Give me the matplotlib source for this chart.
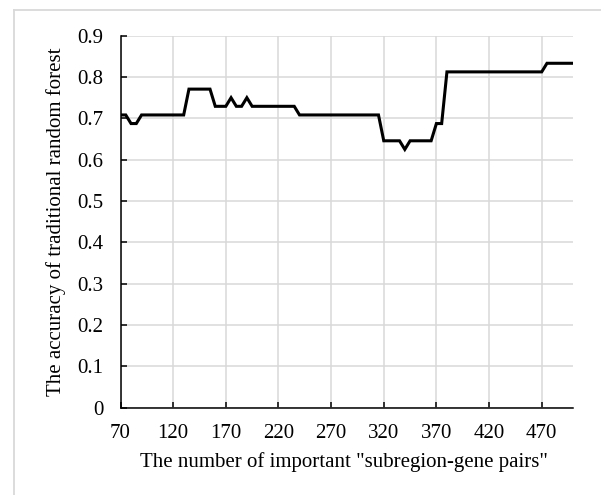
import numpy as np
from matplotlib import pyplot as plt
from matplotlib.lines import Line2D

# DATA
pair_counts = list(range(70, 505, 5))

accuracy = [
    0.7083, 0.7083, 0.6875, 0.6875, 0.7083, 0.7083, 0.7083, 0.7083, 0.7083, 0.7083,  # 70-115
    0.7083, 0.7083, 0.7083, 0.7708, 0.7708, 0.7708, 0.7708, 0.7708, 0.7292, 0.7292,  # 120-165
    0.7292, 0.7500, 0.7292, 0.7292, 0.7500, 0.7292, 0.7292, 0.7292, 0.7292, 0.7292,  # 170-215
    0.7292, 0.7292, 0.7292, 0.7292, 0.7083, 0.7083, 0.7083, 0.7083, 0.7083, 0.7083,  # 220-265
    0.7083, 0.7083, 0.7083, 0.7083, 0.7083, 0.7083, 0.7083, 0.7083, 0.7083, 0.7083,  # 270-315
    0.6458, 0.6458, 0.6458, 0.6458, 0.6250, 0.6458, 0.6458, 0.6458, 0.6458, 0.6458,  # 320-365
    0.6875, 0.6875, 0.8125, 0.8125, 0.8125, 0.8125, 0.8125, 0.8125, 0.8125, 0.8125,  # 370-415
    0.8125, 0.8125, 0.8125, 0.8125, 0.8125, 0.8125, 0.8125, 0.8125, 0.8125, 0.8125,  # 420-465
    0.8125, 0.8333, 0.8333, 0.8333, 0.8333, 0.8333,                                  # 470-495
    0.8333,                                                                          # 500
]

x_ticks = [70, 120, 170, 220, 270, 320, 370, 420, 470]
y_ticks = [0, 0.1, 0.2, 0.3, 0.4, 0.5, 0.6, 0.7, 0.8, 0.9]
y_tick_labels = ["0", "0.1", "0.2", "0.3", "0.4", "0.5", "0.6", "0.7", "0.8", "0.9"]

# PLOT
plt.rcParams['font.family'] = ['Liberation Serif', 'DejaVu Serif']
W, H = 601, 495
fig = plt.figure(figsize=(W / 100, H / 100), dpi=100)

left, right, top, bottom = 120.5, 573.3, 35.7, 407.8
ax = fig.add_axes([left / W, 1 - bottom / H, (right - left) / W, (bottom - top) / H])

ax.plot(pair_counts[:len(accuracy)], accuracy, color="black", linewidth=2.2, solid_joinstyle="miter")

ax.set_xlim(70, 500)
ax.set_ylim(0, 0.9)
ax.set_xticks(x_ticks)
ax.set_yticks(y_ticks)
ax.set_yticklabels(y_tick_labels)
ax.grid(True, color="#d9d9d9", linewidth=1.1)
ax.set_axisbelow(True)

for side in ["top", "right"]:
    ax.spines[side].set_visible(False)
for side in ["left", "bottom"]:
    ax.spines[side].set_color("black")
    ax.spines[side].set_linewidth(1.1)

ax.tick_params(axis="both", direction="in", length=4.5, width=1.1, color="black",
               labelsize=15, colors="black")
ax.tick_params(axis="x", pad=12)
ax.tick_params(axis="y", pad=12.5)

ax.set_xlabel('The number of important "subregion-gene pairs"', fontsize=15)
ax.set_ylabel("The accuracy of traditional random forest", fontsize=15)
ax.xaxis.set_label_coords((343.8 - left) / (right - left), -(452 - bottom) / (bottom - top))
ax.yaxis.set_label_coords(-(left - 66) / (right - left), 0.5)

# chart area border (only left and top are visible in the crop)
fig.add_artist(Line2D([14 / W, 14 / W], [0, 1 - 10 / H], color="#d9d9d9", linewidth=1.3,
                      transform=fig.transFigure))
fig.add_artist(Line2D([14 / W, 1], [1 - 10 / H, 1 - 10 / H], color="#d9d9d9", linewidth=1.3,
                      transform=fig.transFigure))

fig.savefig("out.png", dpi=100)
